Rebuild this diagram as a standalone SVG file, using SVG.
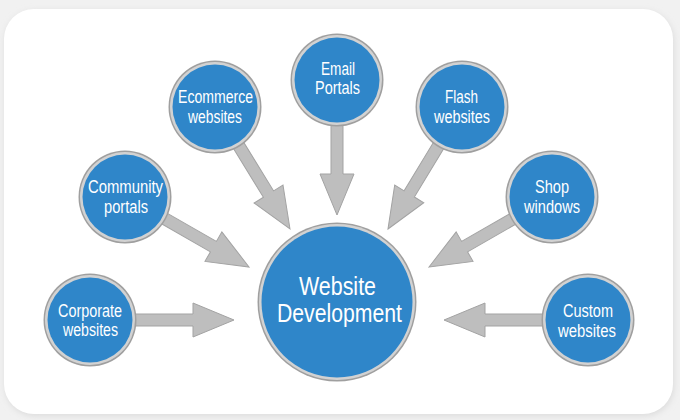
<svg xmlns="http://www.w3.org/2000/svg" xmlns:xlink="http://www.w3.org/1999/xlink" width="680" height="420" viewBox="0 0 680 420">
  <defs>
    <style>
      .ring-out { fill: #9f9f9f; }
      .ring-in { fill: #d2d2d2; }
      .core { fill: #2f86c9; }
      .lbl { font-family: "Liberation Sans", Arial, sans-serif; font-size: 17.5px; fill: #ffffff; text-anchor: middle; }
      .big { font-family: "Liberation Sans", Arial, sans-serif; font-size: 26.5px; fill: #ffffff; text-anchor: middle; }
      .arrow { fill: #bebebe; stroke: #a3a3a3; stroke-width: 1; stroke-linejoin: miter; }
    </style>
    <path id="arr" d="M0,0 L-41,-17 V-6 H-112 V6 H-41 V17 Z"/>
    <filter id="sh" x="-5%" y="-5%" width="110%" height="110%">
      <feGaussianBlur stdDeviation="3"/>
    </filter>
  </defs>

  <rect x="0" y="0" width="680" height="420" fill="#f1f1f1"/>
  <rect x="5" y="11" width="669" height="405" rx="30" fill="#dcdcdc" filter="url(#sh)"/>
  <rect x="4" y="9" width="669" height="405" rx="30" fill="#ffffff"/>

  <g id="connectors">
    <use xlink:href="#arr" href="#arr" class="arrow" transform="translate(234,320)"/>
    <use xlink:href="#arr" href="#arr" class="arrow" transform="translate(444,320) rotate(180)"/>
    <use xlink:href="#arr" href="#arr" class="arrow" transform="translate(337,215) rotate(90)"/>
    <use xlink:href="#arr" href="#arr" class="arrow" transform="translate(290,229) rotate(58.4)"/>
    <use xlink:href="#arr" href="#arr" class="arrow" transform="translate(388,229) rotate(121.2)"/>
    <use xlink:href="#arr" href="#arr" class="arrow" transform="translate(249,267) rotate(29.8)"/>
    <use xlink:href="#arr" href="#arr" class="arrow" transform="translate(429,267) rotate(150.2)"/>
  </g>

  <g id="node-central">
    <circle cx="337" cy="302" r="79.5" class="ring-out"/>
    <circle cx="337" cy="302" r="78" class="ring-in"/>
    <circle cx="337" cy="302" r="75.5" class="core"/>
    <text x="337.5" y="295" class="big" textLength="77" lengthAdjust="spacingAndGlyphs">Website</text>
    <text x="339.5" y="322" class="big" textLength="125" lengthAdjust="spacingAndGlyphs">Development</text>
  </g>

  <g id="node-email">
    <circle cx="337" cy="80" r="46.5" class="ring-out"/>
    <circle cx="337" cy="80" r="45" class="ring-in"/>
    <circle cx="337" cy="80" r="42.5" class="core"/>
    <text x="338" y="75" class="lbl" textLength="34" lengthAdjust="spacingAndGlyphs">Email</text>
    <text x="337.5" y="94" class="lbl" textLength="45" lengthAdjust="spacingAndGlyphs">Portals</text>
  </g>

  <g id="node-ecommerce">
    <circle cx="215" cy="107" r="46.5" class="ring-out"/>
    <circle cx="215" cy="107" r="45" class="ring-in"/>
    <circle cx="215" cy="107" r="42.5" class="core"/>
    <text x="215.5" y="103" class="lbl" textLength="75" lengthAdjust="spacingAndGlyphs">Ecommerce</text>
    <text x="215" y="123" class="lbl" textLength="54" lengthAdjust="spacingAndGlyphs">websites</text>
  </g>

  <g id="node-flash">
    <circle cx="462" cy="107" r="46.5" class="ring-out"/>
    <circle cx="462" cy="107" r="45" class="ring-in"/>
    <circle cx="462" cy="107" r="42.5" class="core"/>
    <text x="461.5" y="103" class="lbl" textLength="33" lengthAdjust="spacingAndGlyphs">Flash</text>
    <text x="462" y="123" class="lbl" textLength="56" lengthAdjust="spacingAndGlyphs">websites</text>
  </g>

  <g id="node-community">
    <circle cx="125" cy="197" r="46.5" class="ring-out"/>
    <circle cx="125" cy="197" r="45" class="ring-in"/>
    <circle cx="125" cy="197" r="42.5" class="core"/>
    <text x="125.5" y="193" class="lbl" textLength="75" lengthAdjust="spacingAndGlyphs">Community</text>
    <text x="126" y="213" class="lbl" textLength="44" lengthAdjust="spacingAndGlyphs">portals</text>
  </g>

  <g id="node-shop">
    <circle cx="552" cy="197" r="46.5" class="ring-out"/>
    <circle cx="552" cy="197" r="45" class="ring-in"/>
    <circle cx="552" cy="197" r="42.5" class="core"/>
    <text x="552" y="193" class="lbl" textLength="34" lengthAdjust="spacingAndGlyphs">Shop</text>
    <text x="552" y="213" class="lbl" textLength="56" lengthAdjust="spacingAndGlyphs">windows</text>
  </g>

  <g id="node-corporate">
    <circle cx="90" cy="320" r="46.5" class="ring-out"/>
    <circle cx="90" cy="320" r="45" class="ring-in"/>
    <circle cx="90" cy="320" r="42.5" class="core"/>
    <text x="90" y="317" class="lbl" textLength="64" lengthAdjust="spacingAndGlyphs">Corporate</text>
    <text x="90.5" y="336" class="lbl" textLength="55" lengthAdjust="spacingAndGlyphs">websites</text>
  </g>

  <g id="node-custom">
    <circle cx="588" cy="320" r="46.5" class="ring-out"/>
    <circle cx="588" cy="320" r="45" class="ring-in"/>
    <circle cx="588" cy="320" r="42.5" class="core"/>
    <text x="588" y="317" class="lbl" textLength="50" lengthAdjust="spacingAndGlyphs">Custom</text>
    <text x="587" y="336.5" class="lbl" textLength="58" lengthAdjust="spacingAndGlyphs">websites</text>
  </g>
</svg>
